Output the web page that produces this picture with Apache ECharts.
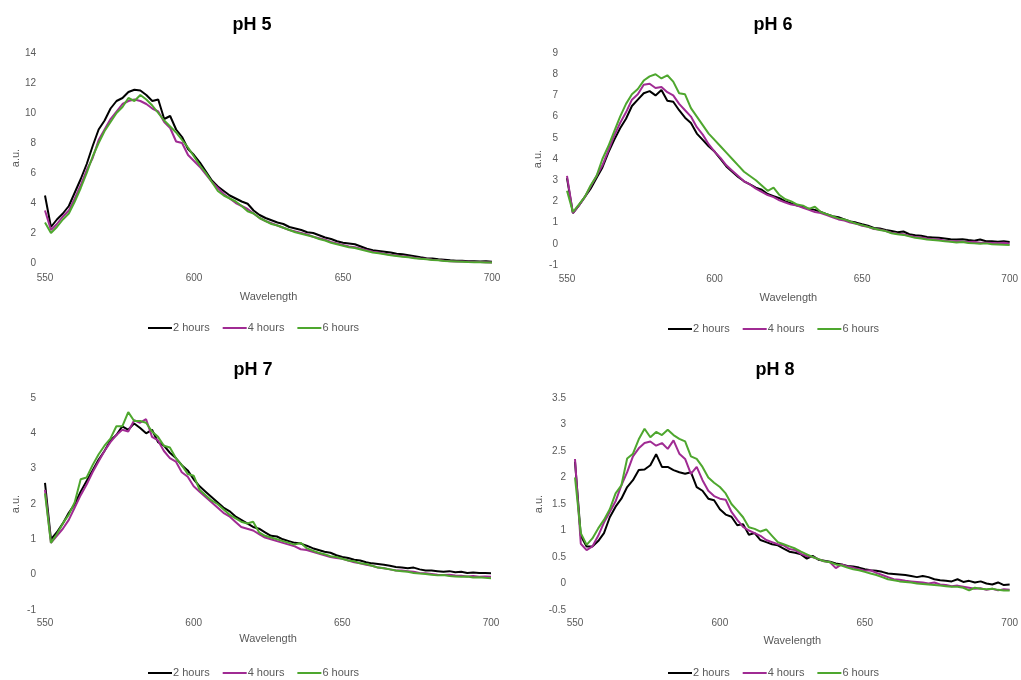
<!DOCTYPE html>
<html><head><meta charset="utf-8">
<script src="https://cdn.jsdelivr.net/npm/echarts@6/dist/echarts.min.js"></script>
<style>html,body{margin:0;padding:0;background:#fff}#c{width:1021px;height:680px}</style>
</head><body><div id="c"></div>
<script>
// ---- data ----
const wavelengths = [
550,552,554,556,558,560,562,564,566,568,
570,572,574,576,578,580,582,584,586,588,
590,592,594,596,598,600,602,604,606,608,
610,612,614,616,618,620,622,624,626,628,
630,632,634,636,638,640,642,644,646,648,
650,652,654,656,658,660,662,664,666,668,
670,672,674,676,678,680,682,684,686,688,
690,692,694,696,698,700];
const seriesNames = ['2 hours','4 hours','6 hours'];
const panelTitles = ['pH 5','pH 6','pH 7','pH 8'];

const ph5_2h = [
4.5,2.4,2.9,3.3,3.8,4.7,5.6,6.6,7.8,8.9,
9.5,10.3,10.8,11.0,11.4,11.55,11.5,11.2,10.8,10.9,
9.6,9.8,8.9,8.4,7.6,7.2,6.7,6.1,5.5,5.1,
4.8,4.5,4.3,4.1,3.95,3.5,3.2,3.0,2.85,2.7,
2.6,2.4,2.3,2.2,2.05,2.0,1.85,1.7,1.6,1.45,
1.35,1.3,1.25,1.1,0.95,0.85,0.8,0.75,0.7,0.62,
0.58,0.52,0.45,0.38,0.32,0.3,0.25,0.22,0.18,0.15,
0.15,0.12,0.12,0.1,0.12,0.08];
const ph5_4h = [
3.5,2.2,2.6,3.1,3.5,4.3,5.2,6.2,7.0,8.2,
8.9,9.6,10.1,10.6,10.8,10.9,10.8,10.6,10.3,10.1,
9.4,9.0,8.1,8.0,7.2,6.8,6.4,5.9,5.4,5.0,
4.6,4.3,4.0,3.8,3.6,3.3,3.0,2.8,2.65,2.5,
2.35,2.2,2.1,2.0,1.9,1.75,1.65,1.55,1.4,1.3,
1.2,1.1,1.05,0.95,0.85,0.75,0.7,0.62,0.55,0.5,
0.45,0.42,0.35,0.3,0.28,0.22,0.2,0.15,0.12,0.1,
0.1,0.08,0.06,0.06,0.05,0.04];
const ph5_6h = [
2.7,2.0,2.4,2.9,3.3,4.1,5.0,6.0,7.1,8.0,
8.8,9.4,10.0,10.4,11.0,10.8,11.2,10.9,10.5,10.0,
9.5,9.1,8.7,8.2,7.7,7.1,6.5,6.0,5.4,4.8,
4.5,4.3,4.1,3.8,3.45,3.3,3.0,2.8,2.6,2.5,
2.35,2.2,2.05,1.95,1.85,1.75,1.6,1.5,1.35,1.25,
1.15,1.05,1.0,0.9,0.8,0.7,0.65,0.58,0.52,0.47,
0.42,0.38,0.32,0.28,0.25,0.2,0.18,0.14,0.12,0.1,
0.08,0.06,0.05,0.05,0.04,0.03];

const ph6_2h = [
3.1,1.45,1.8,2.2,2.6,3.1,3.6,4.3,4.9,5.45,
5.9,6.5,6.8,7.1,7.2,7.0,7.25,6.75,6.7,6.3,
5.95,5.7,5.2,4.9,4.6,4.35,4.0,3.65,3.4,3.15,
2.95,2.8,2.65,2.55,2.35,2.25,2.15,2.0,1.9,1.8,
1.75,1.65,1.6,1.5,1.4,1.3,1.25,1.15,1.05,1.0,
0.92,0.85,0.75,0.72,0.65,0.6,0.55,0.58,0.45,0.4,
0.38,0.32,0.3,0.28,0.25,0.22,0.2,0.22,0.18,0.15,
0.2,0.12,0.12,0.1,0.12,0.08];
const ph6_4h = [
3.2,1.45,1.8,2.2,2.7,3.2,3.7,4.4,5.1,5.7,
6.2,6.8,7.05,7.5,7.55,7.35,7.4,7.15,7.0,6.6,
6.3,6.0,5.5,5.15,4.7,4.35,4.05,3.7,3.45,3.2,
2.95,2.8,2.6,2.45,2.3,2.2,2.05,1.95,1.85,1.8,
1.7,1.6,1.5,1.45,1.35,1.25,1.15,1.1,1.0,0.95,
0.85,0.8,0.7,0.68,0.6,0.52,0.48,0.45,0.38,0.32,
0.3,0.25,0.22,0.2,0.15,0.12,0.12,0.1,0.08,0.1,
0.05,0.05,0.04,0.03,0.05,0.0];
const ph6_6h = [
2.5,1.5,1.85,2.2,2.75,3.2,4.0,4.6,5.3,6.0,
6.6,7.05,7.3,7.7,7.9,8.0,7.8,7.95,7.65,7.1,
7.05,6.4,6.0,5.6,5.2,4.9,4.6,4.3,4.0,3.7,
3.4,3.2,3.0,2.75,2.5,2.65,2.3,2.1,2.0,1.85,
1.8,1.65,1.75,1.5,1.4,1.3,1.2,1.15,1.05,0.95,
0.88,0.8,0.72,0.65,0.6,0.5,0.45,0.42,0.35,0.28,
0.25,0.2,0.18,0.15,0.12,0.1,0.06,0.08,0.04,0.02,
0.0,0.02,-0.02,-0.03,-0.05,-0.06];

const ph7_2h = [
2.6,1.0,1.2,1.45,1.75,2.0,2.35,2.65,2.95,3.25,
3.5,3.8,3.95,4.2,4.1,4.28,4.15,4.0,4.1,3.75,
3.65,3.45,3.3,3.1,2.95,2.7,2.5,2.35,2.2,2.05,
1.9,1.8,1.65,1.55,1.45,1.35,1.3,1.2,1.1,1.08,
1.0,0.95,0.9,0.88,0.82,0.75,0.7,0.65,0.62,0.55,
0.5,0.47,0.42,0.4,0.35,0.32,0.3,0.28,0.25,0.22,
0.2,0.18,0.2,0.15,0.12,0.12,0.1,0.08,0.1,0.07,
0.08,0.05,0.06,0.05,0.05,0.04];
const ph7_4h = [
2.4,0.9,1.1,1.3,1.55,1.9,2.25,2.55,2.9,3.2,
3.5,3.75,3.95,4.1,4.05,4.37,4.3,4.4,3.9,3.8,
3.5,3.3,3.2,2.9,2.77,2.5,2.35,2.2,2.05,1.9,
1.75,1.65,1.5,1.35,1.3,1.25,1.15,1.05,1.0,0.95,
0.9,0.85,0.8,0.72,0.7,0.65,0.6,0.55,0.5,0.47,
0.45,0.4,0.35,0.32,0.28,0.25,0.2,0.18,0.15,0.12,
0.12,0.1,0.08,0.05,0.04,0.02,0.0,-0.01,0.0,-0.02,
-0.03,-0.05,-0.04,-0.06,-0.05,-0.06];
const ph7_6h = [
2.3,0.9,1.15,1.45,1.7,2.05,2.7,2.75,3.1,3.4,
3.65,3.85,4.2,4.2,4.6,4.35,4.35,4.3,4.05,3.9,
3.65,3.6,3.3,3.1,2.85,2.8,2.4,2.25,2.1,2.0,
1.85,1.7,1.6,1.5,1.45,1.5,1.2,1.1,1.05,1.0,
0.95,0.9,0.85,0.9,0.75,0.68,0.62,0.58,0.52,0.5,
0.45,0.4,0.38,0.32,0.3,0.25,0.2,0.18,0.15,0.12,
0.1,0.08,0.05,0.03,0.02,0.0,-0.02,-0.01,-0.04,-0.05,
-0.06,-0.05,-0.08,-0.07,-0.09,-0.1];

const ph8_2h = [
2.3,0.9,0.7,0.7,0.8,0.95,1.25,1.45,1.6,1.82,
1.95,2.14,2.15,2.23,2.44,2.2,2.2,2.14,2.1,2.07,
2.1,1.82,1.75,1.6,1.57,1.4,1.3,1.26,1.1,1.12,
0.92,0.95,0.82,0.78,0.74,0.72,0.66,0.6,0.58,0.55,
0.47,0.52,0.45,0.43,0.41,0.38,0.36,0.33,0.32,0.3,
0.27,0.25,0.24,0.22,0.19,0.18,0.17,0.16,0.14,0.12,
0.14,0.12,0.08,0.06,0.05,0.04,0.08,0.03,0.05,0.02,
0.04,0.0,-0.02,0.02,-0.03,-0.02];
const ph8_4h = [
2.35,0.75,0.63,0.7,0.9,1.15,1.35,1.55,1.85,2.1,
2.4,2.55,2.65,2.68,2.6,2.65,2.54,2.7,2.45,2.35,
2.07,2.2,1.95,1.75,1.65,1.6,1.58,1.35,1.2,1.07,
1.0,0.95,0.9,0.82,0.78,0.74,0.72,0.65,0.63,0.56,
0.52,0.5,0.46,0.42,0.4,0.29,0.36,0.32,0.3,0.27,
0.24,0.25,0.2,0.16,0.12,0.08,0.07,0.05,0.04,0.03,
0.02,0.0,0.02,-0.02,-0.03,-0.05,-0.04,-0.06,-0.08,-0.1,
-0.09,-0.12,-0.1,-0.13,-0.11,-0.12];
const ph8_6h = [
2.0,0.95,0.73,0.85,1.04,1.2,1.4,1.7,1.85,2.36,
2.45,2.72,2.92,2.76,2.86,2.8,2.9,2.8,2.73,2.68,
2.4,2.35,2.2,2.0,1.9,1.82,1.7,1.5,1.38,1.25,
1.06,1.03,0.98,1.02,0.9,0.78,0.74,0.7,0.66,0.6,
0.55,0.5,0.46,0.42,0.4,0.36,0.34,0.3,0.27,0.25,
0.22,0.19,0.16,0.12,0.08,0.06,0.04,0.03,0.02,0.0,
-0.01,-0.02,-0.03,-0.04,-0.05,-0.06,-0.06,-0.08,-0.13,-0.08,
-0.1,-0.11,-0.1,-0.12,-0.13,-0.13];

const yMins = [0, -1, -1, -0.5];
const yMaxs = [14, 9, 5, 3.5];
const ySteps = [2, 1, 1, 0.5];

// ---- layout & style ----
const colors = ['#000000', '#A02B93', '#4EA72E'];
const panelData = [
  [ph5_2h, ph5_4h, ph5_6h],
  [ph6_2h, ph6_4h, ph6_6h],
  [ph7_2h, ph7_4h, ph7_6h],
  [ph8_2h, ph8_4h, ph8_6h]
];
const layout = [
  {left:45,  top:53,  width:447, height:210, titleX:252, titleY:25,  legendLeft:148, legendTop:322, xMargin:10, xNameGap:28},
  {left:567, top:53,  width:446, height:212, titleX:773, titleY:25,  legendLeft:668, legendTop:323, xMargin:9,  xNameGap:27},
  {left:45,  top:398, width:446, height:212, titleX:253, titleY:370, legendLeft:148, legendTop:667, xMargin:8,  xNameGap:23},
  {left:575, top:398, width:439, height:212, titleX:775, titleY:370, legendLeft:668, legendTop:667, xMargin:8,  xNameGap:25}
];
const FONT = 'Liberation Sans, Arial, sans-serif';
const GRAY = '#595959';

const grids = [], xAxes = [], yAxes = [], series = [], legends = [], graphics = [];
layout.forEach((L, p) => {
  grids.push({left:L.left, top:L.top, width:L.width, height:L.height, containLabel:false});
  xAxes.push({
    type:'value', gridIndex:p, min:550, max:700, interval:50,
    name:'Wavelength', nameLocation:'middle', nameGap:L.xNameGap,
    nameTextStyle:{color:GRAY, fontSize:11, fontFamily:FONT},
    axisLine:{show:false}, axisTick:{show:false}, splitLine:{show:false},
    axisLabel:{color:GRAY, fontSize:10, fontFamily:FONT, margin:L.xMargin, showMinLabel:true, showMaxLabel:true}
  });
  yAxes.push({
    type:'value', gridIndex:p, min:yMins[p], max:yMaxs[p], interval:ySteps[p],
    name:'a.u.', nameLocation:'middle', nameGap:24, nameRotate:90,
    nameTextStyle:{color:GRAY, fontSize:11, fontFamily:FONT},
    axisLine:{show:false}, axisTick:{show:false}, splitLine:{show:false},
    axisLabel:{color:GRAY, fontSize:10, fontFamily:FONT, margin:9}
  });
  panelData[p].forEach((arr, s) => {
    series.push({
      type:'line', name:seriesNames[s], xAxisIndex:p, yAxisIndex:p,
      data: wavelengths.map((w, i) => [w, arr[i]]),
      symbol:'none', showSymbol:false,
      lineStyle:{color:colors[s], width:2}, itemStyle:{color:colors[s]},
      animation:false, z: 2 + s
    });
  });
  legends.push({
    left:L.legendLeft, top:L.legendTop, padding:0, icon:'rect',
    itemWidth:24, itemHeight:2, itemGap:13,
    data: seriesNames, selectedMode:false,
    textStyle:{color:GRAY, fontSize:11, fontFamily:FONT, padding:[0,0,0,-4], lineHeight:12}
  });
  graphics.push({
    type:'text', x:L.titleX, y:L.titleY,
    style:{text:panelTitles[p], fill:'#000', font:'bold 18px ' + FONT, textAlign:'center', textVerticalAlign:'middle'}
  });
});

const chart = echarts.init(document.getElementById('c'), null, {renderer:'canvas'});
chart.setOption({
  backgroundColor:'#fff',
  animation:false,
  grid:grids, xAxis:xAxes, yAxis:yAxes, series:series, legend:legends, graphic:graphics
});
</script>
</body></html>
